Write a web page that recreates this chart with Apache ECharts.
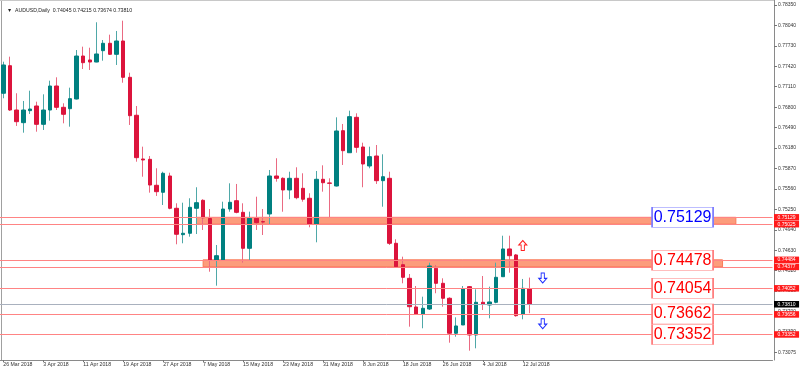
<!DOCTYPE html>
<html><head><meta charset="utf-8">
<script src="https://cdn.jsdelivr.net/npm/echarts@6/dist/echarts.min.js"></script>
<style>html,body{margin:0;padding:0;background:#fff}#c{width:800px;height:370px}</style>
</head><body><div id="c"></div>
<script>
const dates = ['26 Mar 2018','27 Mar 2018','28 Mar 2018','29 Mar 2018','30 Mar 2018',
'2 Apr 2018','3 Apr 2018','4 Apr 2018','5 Apr 2018','6 Apr 2018',
'9 Apr 2018','10 Apr 2018','11 Apr 2018','12 Apr 2018','13 Apr 2018',
'16 Apr 2018','17 Apr 2018','18 Apr 2018','19 Apr 2018','20 Apr 2018',
'23 Apr 2018','24 Apr 2018','25 Apr 2018','26 Apr 2018','27 Apr 2018',
'30 Apr 2018','1 May 2018','2 May 2018','3 May 2018','4 May 2018',
'7 May 2018','8 May 2018','9 May 2018','10 May 2018','11 May 2018',
'14 May 2018','15 May 2018','16 May 2018','17 May 2018','18 May 2018',
'21 May 2018','22 May 2018','23 May 2018','24 May 2018','25 May 2018',
'28 May 2018','29 May 2018','30 May 2018','31 May 2018','1 Jun 2018',
'4 Jun 2018','5 Jun 2018','6 Jun 2018','7 Jun 2018','8 Jun 2018',
'11 Jun 2018','12 Jun 2018','13 Jun 2018','14 Jun 2018','15 Jun 2018',
'18 Jun 2018','19 Jun 2018','20 Jun 2018','21 Jun 2018','22 Jun 2018',
'25 Jun 2018','26 Jun 2018','27 Jun 2018','28 Jun 2018','29 Jun 2018',
'2 Jul 2018','3 Jul 2018','4 Jul 2018','5 Jul 2018','6 Jul 2018',
'9 Jul 2018','10 Jul 2018','11 Jul 2018','12 Jul 2018','13 Jul 2018'];

const opens = [0.77011,0.77429,0.76757,0.76565,0.76747,0.76818,0.76540,0.76757,0.77121,0.76798,
0.76777,0.76924,0.77576,0.77516,0.77485,0.77657,0.77769,0.77602,0.77804,0.77253,
0.76677,0.76014,0.76009,0.75615,0.75509,0.75756,0.75266,0.74866,0.74887,0.75266,
0.75387,0.75111,0.74482,0.74482,0.75255,0.75381,0.75205,0.74659,0.75114,0.75063,
0.75180,0.75756,0.75721,0.75544,0.75721,0.75569,0.75418,0.75023,0.75706,0.75650,
0.75604,0.76443,0.76109,0.76646,0.76196,0.75908,0.76059,0.75685,0.75721,0.74735,
0.74410,0.74204,0.73769,0.73663,0.73738,0.74356,0.74128,0.73901,0.73370,0.73496,
0.74077,0.73344,0.73840,0.73799,0.73840,0.74228,0.74649,0.74558,0.73658,0.74045];
const highs = [0.77490,0.77566,0.77011,0.76894,0.77050,0.76883,0.76995,0.77202,0.77253,0.76859,
0.77096,0.77667,0.77718,0.77702,0.78088,0.77819,0.77900,0.77956,0.78112,0.77323,
0.76818,0.76201,0.76059,0.75873,0.75821,0.75806,0.75342,0.75351,0.75418,0.75585,
0.75403,0.75255,0.74709,0.75366,0.75645,0.75635,0.75342,0.75215,0.75442,0.75255,
0.75847,0.76025,0.75736,0.75821,0.75888,0.75797,0.75494,0.75832,0.75918,0.75721,
0.76646,0.76545,0.76747,0.76707,0.76261,0.76201,0.76226,0.76085,0.75821,0.74796,
0.74532,0.74269,0.74087,0.73925,0.74441,0.74406,0.74204,0.73916,0.73612,0.74087,
0.74087,0.74037,0.74239,0.74077,0.74441,0.74850,0.74850,0.74573,0.74194,0.74215];
const lows = [0.76935,0.76742,0.76515,0.76413,0.76697,0.76428,0.76454,0.76595,0.76757,0.76555,
0.76504,0.76917,0.77379,0.77364,0.77481,0.77505,0.77592,0.77440,0.77171,0.76530,
0.75973,0.75745,0.75503,0.75453,0.75316,0.75251,0.74720,0.74735,0.74835,0.74876,
0.74937,0.74304,0.74092,0.74482,0.75214,0.75190,0.74441,0.74482,0.74937,0.74861,
0.75013,0.75670,0.75214,0.75403,0.75403,0.75366,0.74978,0.74750,0.75518,0.75130,
0.75597,0.75923,0.76109,0.76109,0.75585,0.75873,0.75635,0.75290,0.74709,0.74371,
0.74128,0.73470,0.73655,0.73446,0.73723,0.73977,0.73773,0.73227,0.73318,0.73496,
0.73106,0.73142,0.73723,0.73597,0.73825,0.74228,0.74289,0.73622,0.73582,0.73674];
const closes = [0.77440,0.76757,0.76580,0.76757,0.76772,0.76540,0.76757,0.77121,0.76798,0.76692,
0.76929,0.77576,0.77475,0.77485,0.77607,0.77769,0.77602,0.77804,0.77253,0.76671,
0.76034,0.75999,0.75619,0.75518,0.75797,0.75266,0.74872,0.74887,0.75281,0.75351,
0.75123,0.74482,0.74547,0.75255,0.75357,0.75205,0.74659,0.75114,0.75048,0.75058,
0.75756,0.75721,0.75544,0.75721,0.75427,0.75403,0.75028,0.75706,0.75654,0.75645,
0.76439,0.76140,0.76656,0.76191,0.75938,0.76049,0.75685,0.75745,0.74735,0.74380,
0.74219,0.73773,0.73663,0.73749,0.74391,0.74128,0.73901,0.73370,0.73481,0.74042,
0.73344,0.73840,0.73810,0.73845,0.74219,0.74649,0.74547,0.73637,0.74052,0.73810];

const yTickLabels = [0.78350,0.78040,0.77730,0.77420,0.77110,0.76800,0.76490,0.76180,0.75870,
0.75560,0.75250,0.74940,0.74630,0.74320,0.74010,0.73700,0.73390,0.73075];
const levelLines = [0.75129,0.75025,0.74484,0.74377,0.74052,0.73656,0.73352];
const lastPrice = 0.73810;
const zoneHigh = [0.75129,0.74484];
const zoneLow  = [0.75025,0.74377];
const zoneFrom = [29,30];
const zoneTo   = [110,108];
const boxValues = [0.75129,0.74478,0.74054,0.73662,0.73352];
const boxKinds  = ['blue','red','red','red','red'];
const boxAt = 102;
const upArrows = [[78,0.74702]];
const downArrows = [[81,0.74209],[81,0.73515]];

const Y_MIN = 0.729646, Y_MAX = 0.784258;
const N = 116;
const cats = dates.concat(Array(N - dates.length).fill(''));
const BULL = '#008080', BEAR = '#DC143C';
const BULL_W = '#4FA8A8', BEAR_W = '#EA6A82';

const wickData = dates.map((d,i)=>[opens[i],closes[i],lows[i],highs[i]]);
const bodyData = dates.map((d,i)=>[opens[i],closes[i],Math.min(opens[i],closes[i]),Math.max(opens[i],closes[i])]);

const tagLabel = (bg)=>({show:true,position:'end',distance:1.5,formatter:p=>Number(p.value).toFixed(5),
  color:'#fff',backgroundColor:bg,fontSize:5,lineHeight:5,padding:[1,3.5,0.5,3.5],fontFamily:'Liberation Sans'});

const li = dates.length-1;
const titleText = '\u25BC  AUDUSD,Daily  ' + [opens[li],highs[li],lows[li],closes[li]].map(v=>v.toFixed(5)).join(' ');

const chart = echarts.init(document.getElementById('c'), null, {renderer:'canvas'});
chart.setOption({
  animation:false,
  backgroundColor:'#fff',
  title:{text:titleText,left:2,top:3,textStyle:{fontSize:5.2,fontWeight:'normal',color:'#222',fontFamily:'Liberation Sans'}},
  grid:{left:-0.83,right:27.5,top:0,bottom:10,containLabel:false},
  xAxis:{type:'category',data:cats,boundaryGap:true,
    axisLine:{show:true,lineStyle:{color:'#8a8a8a',width:1}},
    axisTick:{show:true,alignWithLabel:true,length:2,interval:(i,v)=>i%6===0&&v!=='',lineStyle:{color:'#777'}},
    axisLabel:{interval:(i,v)=>i%6===0&&v!=='',align:'left',margin:2,fontSize:5.2,color:'#333',fontFamily:'Liberation Sans'},
    splitLine:{show:false}},
  yAxis:{type:'value',position:'right',min:Y_MIN,max:Y_MAX,offset:1.5,scale:true,
    axisLine:{show:true,lineStyle:{color:'#8a8a8a',width:1}},
    axisTick:{show:true,length:3,customValues:yTickLabels,lineStyle:{color:'#777'}},
    axisLabel:{customValues:yTickLabels,formatter:v=>v.toFixed(5),margin:4,fontSize:5,color:'#333',fontFamily:'Liberation Sans'},
    splitLine:{show:false}},
  graphic:[
    {type:'line',shape:{x1:1.5,y1:0,x2:1.5,y2:360},style:{stroke:'#a0a0a0',lineWidth:1},silent:true},
    {type:'line',shape:{x1:0,y1:0.5,x2:774,y2:0.5},style:{stroke:'#c8c8c8',lineWidth:1},silent:true}
  ],
  series:[
    {type:'candlestick',name:'levels',data:[],z:1,silent:true,
      markLine:{silent:true,symbol:['none','none'],animation:false,precision:5,
        data:levelLines.map(v=>({yAxis:v,lineStyle:{color:'#FF8484',width:1,type:'solid'},label:tagLabel('#FF1A1A')}))
          .concat([{yAxis:lastPrice,lineStyle:{color:'#A9B1BE',width:1,type:'solid'},label:tagLabel('#000')}])}
    },
    {type:'candlestick',name:'wicks',data:wickData,barWidth:1,z:3,silent:true,
      itemStyle:{color:BULL_W,color0:BEAR_W,borderColor:BULL_W,borderColor0:BEAR_W,borderWidth:1}},
    {type:'candlestick',name:'bodies',data:bodyData,barWidth:4,z:4,silent:true,
      itemStyle:{color:BULL,color0:BEAR,borderColor:BULL,borderColor0:BEAR,borderWidth:1}},
    {type:'candlestick',name:'zones',data:[],z:6,silent:true,
      markArea:{silent:true,itemStyle:{color:'#FC9C7C',borderColor:'#FA7A58',borderWidth:1},
        data:zoneHigh.map((h,k)=>[{xAxis:zoneFrom[k],yAxis:h},{xAxis:zoneTo[k],yAxis:zoneLow[k]}])}
    },
    {type:'scatter',name:'boxes',z:10,silent:true,
      data:boxValues.map((v,k)=>({value:[boxAt,v],
        itemStyle:{color:'#fff',opacity:1,borderColor:boxKinds[k]==='blue'?'#7C7CFF':'#FF7C7C',borderWidth:1},
        label:{color:boxKinds[k]==='blue'?'#0000FF':'#FF0000'}})),
      symbol:'rect',symbolSize:[61,20],itemStyle:{opacity:1},
      label:{show:true,position:'inside',formatter:p=>p.value[1].toFixed(5),fontSize:16,fontFamily:'Liberation Sans'}},
    {type:'scatter',name:'up',z:10,silent:true,data:upArrows,
      symbol:'path://M5,0 L10,5 L7,5 L7,11 L3,11 L3,5 L0,5 Z',symbolSize:[8,10],
      itemStyle:{color:'#fff',opacity:1,borderColor:'#FF2020',borderWidth:1}},
    {type:'scatter',name:'down',z:10,silent:true,data:downArrows,
      symbol:'path://M5,0 L10,5 L7,5 L7,11 L3,11 L3,5 L0,5 Z',symbolSize:[8,10],symbolRotate:180,
      itemStyle:{color:'#fff',opacity:1,borderColor:'#2030FF',borderWidth:1}}
  ]
});
</script></body></html>
